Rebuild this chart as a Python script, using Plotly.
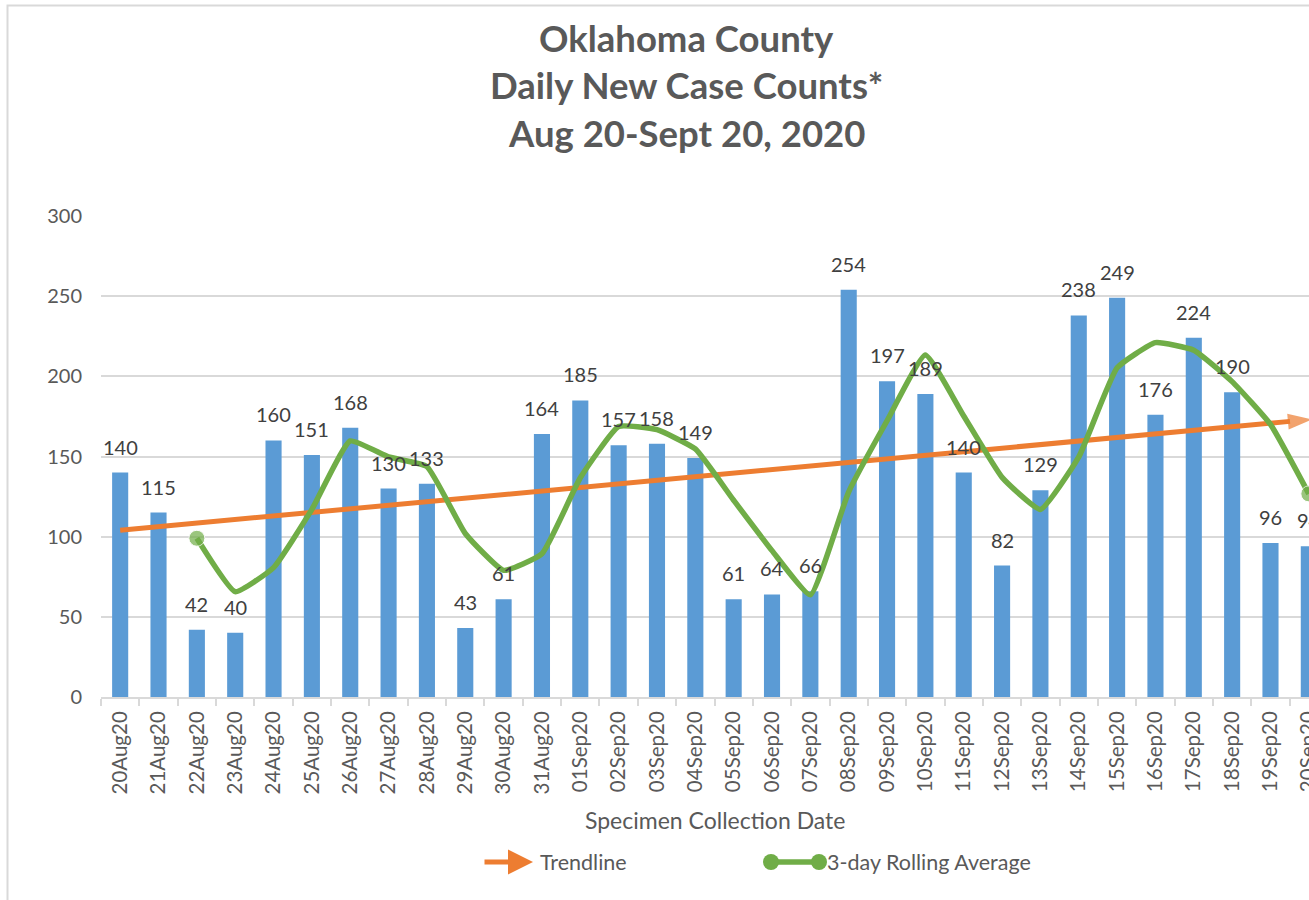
import plotly.graph_objects as go

# ---------------- data ----------------
dates = ["20Aug20", "21Aug20", "22Aug20", "23Aug20", "24Aug20", "25Aug20", "26Aug20",
         "27Aug20", "28Aug20", "29Aug20", "30Aug20", "31Aug20", "01Sep20", "02Sep20",
         "03Sep20", "04Sep20", "05Sep20", "06Sep20", "07Sep20", "08Sep20", "09Sep20",
         "10Sep20", "11Sep20", "12Sep20", "13Sep20", "14Sep20", "15Sep20", "16Sep20",
         "17Sep20", "18Sep20", "19Sep20", "20Sep20"]
cases = [140, 115, 42, 40, 160, 151, 168, 130, 133, 43, 61, 164, 185, 157, 158, 149,
         61, 64, 66, 254, 197, 189, 140, 82, 129, 238, 249, 176, 224, 190, 96, 94]
rolling_avg = [None, None, 99.0, 65.7, 80.7, 117.0, 159.7, 149.7, 143.7, 102.0, 79.0,
               89.3, 136.7, 168.7, 166.7, 154.7, 122.7, 91.3, 63.7, 128.0, 172.3, 213.3,
               175.3, 137.0, 117.0, 149.7, 205.3, 221.0, 216.3, 196.7, 170.0, 126.7]
trend_dates = ["20Aug20", "20Sep20"]
trend_values = [104, 173]
y_ticks = [0, 50, 100, 150, 200, 250, 300]

title_lines = ["Oklahoma County", "Daily New Case Counts*", "Aug 20-Sept 20, 2020"]
x_title = "Specimen Collection Date"
legend_names = ["Trendline", "3-day Rolling Average"]

# ---------------- styling / geometry ----------------
W, H = 1352, 915
PL, PR, PT, PB = 101, 1328, 216, 697   # plot area in pixels
FONT = "Lato"
GREY = "#595959"
BLUE = "#5B9BD5"
ORANGE = "#ED7D31"
GREEN = "#70AD47"
LINEGREY = "#D9D9D9"


def px_x(p):
    return (p - PL) / (PR - PL)


def px_y(p):
    return (PB - p) / (PB - PT)


fig = go.Figure()

fig.add_trace(go.Bar(
    x=dates, y=cases, marker=dict(color=BLUE, line=dict(width=0)),
    name="Cases", showlegend=False, hoverinfo="x+y",
))

fig.add_trace(go.Scatter(
    x=trend_dates, y=trend_values, mode="lines+markers",
    line=dict(color=ORANGE, width=5),
    marker=dict(symbol="arrow", angleref="previous",
                size=[0] * (len(trend_values) - 1) + [21],
                color=ORANGE, line=dict(color=ORANGE, width=2)),
    name=legend_names[0], showlegend=False,
))

valid_idx = [i for i, v in enumerate(rolling_avg) if v is not None]
msize = [16 if i in (valid_idx[0], valid_idx[-1]) else 0 for i in range(len(rolling_avg))]
fig.add_trace(go.Scatter(
    x=dates, y=rolling_avg, mode="lines+markers",
    line=dict(color=GREEN, width=5.5, shape="spline", smoothing=0.4),
    marker=dict(size=msize, color=GREEN),
    name=legend_names[1], showlegend=False, connectgaps=False,
))

annotations = []
for d, v in zip(dates, cases):
    annotations.append(dict(
        x=d, y=v, xref="x", yref="y", text=str(v), showarrow=False,
        yanchor="bottom", yshift=12, font=dict(family=FONT, size=20, color="#404040"),
    ))

title_y = [38, 85, 133]
for t, yy in zip(title_lines, title_y):
    annotations.append(dict(
        x=px_x(686), y=px_y(yy), xref="paper", yref="paper", text=t, showarrow=False,
        xanchor="center", yanchor="middle",
        font=dict(family=FONT, size=36.5, color=GREY, weight="bold"),
    ))

annotations.append(dict(
    x=0.5, y=px_y(820), xref="paper", yref="paper", text=x_title, showarrow=False,
    xanchor="center", yanchor="middle", font=dict(family=FONT, size=23, color=GREY),
))

# custom legend
LEG_Y = px_y(862)
annotations.append(dict(
    x=px_x(533), y=LEG_Y, xref="paper", yref="paper", ax=-50, ay=0, text="",
    showarrow=True, arrowhead=2, arrowsize=1.0, arrowwidth=5, arrowcolor=ORANGE,
))
annotations.append(dict(
    x=px_x(538), y=LEG_Y, xref="paper", yref="paper", text=legend_names[0],
    showarrow=False, xanchor="left", yanchor="middle",
    font=dict(family=FONT, size=21.5, color=GREY),
))
annotations.append(dict(
    x=px_x(825), y=LEG_Y, xref="paper", yref="paper", text=legend_names[1],
    showarrow=False, xanchor="left", yanchor="middle",
    font=dict(family=FONT, size=21.5, color=GREY),
))

shapes = [
    # chart border
    dict(type="rect", xref="paper", yref="paper", x0=px_x(7.5), x1=px_x(1345),
         y0=px_y(910), y1=px_y(5.5), line=dict(color=LINEGREY, width=2),
         fillcolor="rgba(0,0,0,0)", layer="below"),
    # green legend line + end markers
    dict(type="line", xref="paper", yref="paper", x0=px_x(771), x1=px_x(819),
         y0=LEG_Y, y1=LEG_Y, line=dict(color=GREEN, width=5.5)),
]
for cx in (771, 819):
    shapes.append(dict(type="circle", xref="paper", yref="paper",
                       xsizemode="pixel", ysizemode="pixel",
                       xanchor=px_x(cx), yanchor=LEG_Y,
                       x0=-8, x1=8, y0=-8, y1=8,
                       fillcolor=GREEN, line=dict(color=GREEN, width=0)))

fig.update_layout(
    width=W, height=H,
    margin=dict(l=PL, r=W - PR, t=PT, b=H - PB, pad=0),
    paper_bgcolor="white", plot_bgcolor="white",
    bargap=0.58,
    font=dict(family=FONT, color=GREY),
    annotations=annotations, shapes=shapes,
    showlegend=False,
)
fig.update_xaxes(
    type="category", range=[-0.5, len(dates) - 0.5],
    tickmode="array", tickvals=dates, ticktext=dates,
    tickangle=-90, tickfont=dict(family=FONT, size=20.5, color=GREY),
    showline=True, linecolor=LINEGREY, linewidth=2,
    ticks="outside", tickson="boundaries", ticklen=7, tickcolor=LINEGREY, tickwidth=2,
    showgrid=False, ticklabelstandoff=4,
)
fig.update_yaxes(
    range=[0, 300], tickmode="array", tickvals=y_ticks,
    tickfont=dict(family=FONT, size=20, color=GREY),
    showgrid=True, gridcolor=LINEGREY, gridwidth=2,
    zeroline=False, showline=False, ticks="", ticklabelstandoff=18,
)

post = """
document.documentElement.style.overflow='hidden';
document.body.style.margin='0';
document.body.style.overflow='hidden';
var gd=document.getElementById('{plot_id}');
gd.style.width='1309px'; gd.style.height='900px'; gd.style.overflow='hidden';
"""
fig.write_html("out.html", post_script=post, config={"displayModeBar": False})
